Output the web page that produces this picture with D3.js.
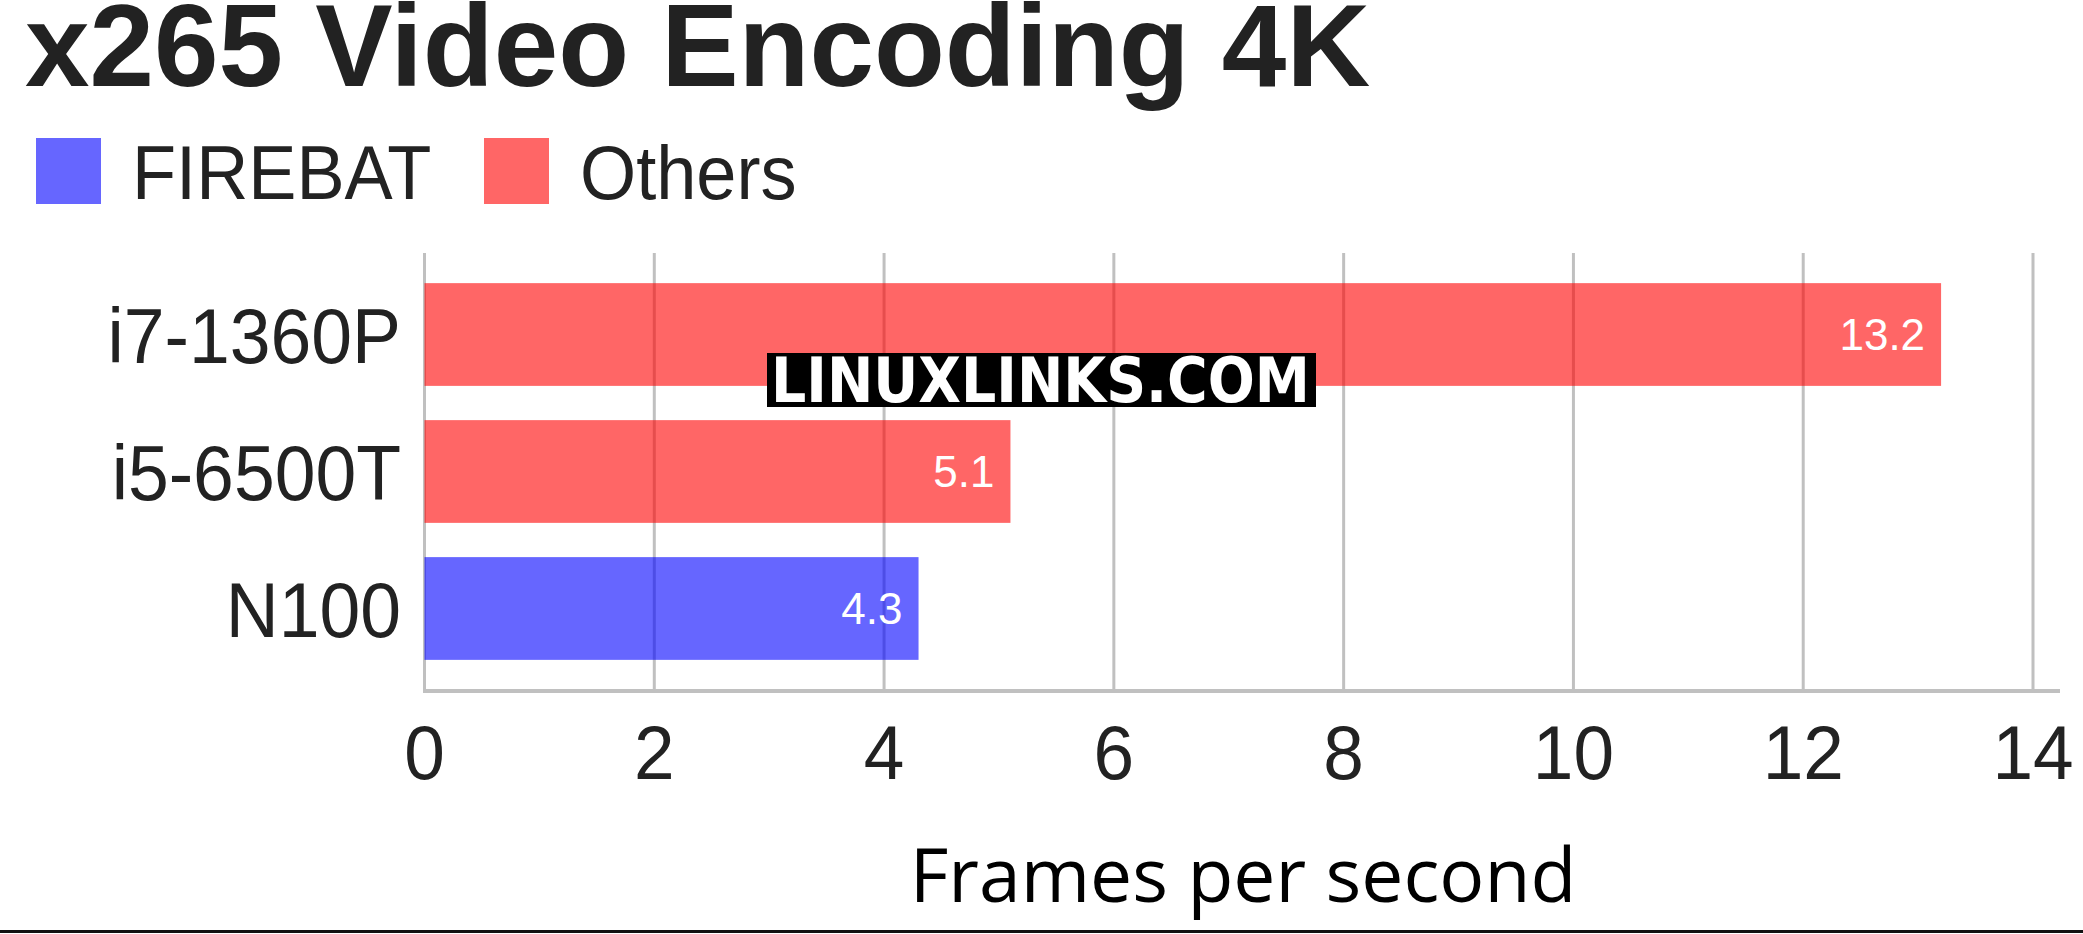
<!DOCTYPE html>
<html>
<head>
<meta charset="utf-8">
<script src="https://cdn.jsdelivr.net/npm/d3@7"></script>
<style>
  html, body { margin: 0; padding: 0; background: #fff; }
  svg { display: block; }
</style>
</head>
<body>
<svg id="chart" width="2083" height="934"></svg>
<script>
const titleText = "x265 Video Encoding 4K";
const categories = ["i7-1360P", "i5-6500T", "N100"];
const values = [13.2, 5.1, 4.3];
const groups = ["Others", "Others", "FIREBAT"];
const legendLabels = ["FIREBAT", "Others"];
const xTicks = [0, 2, 4, 6, 8, 10, 12, 14];
const xTitle = "Frames per second";
const watermark = "LINUXLINKS.COM";

const colorOf = d3.scaleOrdinal().domain(legendLabels).range(["rgba(0,0,255,0.6)", "rgba(255,0,0,0.6)"]);
const solidOf = d3.scaleOrdinal().domain(legendLabels).range(["#6666ff", "#ff6666"]);

const svg = d3.select("#chart");
const W = 2083, H = 934;
svg.append("rect").attr("width", W).attr("height", H).attr("fill", "#fff");

const x = d3.scaleLinear().domain([0, 14]).range([424.5, 2033]);
const y = d3.scaleBand().domain(categories).range([253, 690]).paddingInner(0.25).paddingOuter(0.22);

const sans = "'Liberation Sans', Arial, Helvetica, sans-serif";

// Title
svg.append("text").attr("x", 25).attr("y", 86)
  .attr("font-family", sans).attr("font-weight", "bold").attr("font-size", 116)
  .attr("fill", "#222").text(titleText);

// Legend
const legX = [36, 484];
legendLabels.forEach((lab, i) => {
  svg.append("rect").attr("x", legX[i]).attr("y", 138).attr("width", 65).attr("height", 66)
    .attr("fill", solidOf(lab));
  svg.append("text")
    .attr("transform", `translate(${legX[i] + 96},199) scale(0.95,1)`)
    .attr("font-family", sans).attr("font-size", 76).attr("fill", "#222").text(lab);
});

// Gridlines
svg.append("g").selectAll("line").data(xTicks).join("line")
  .attr("x1", d => x(d)).attr("x2", d => x(d))
  .attr("y1", 253).attr("y2", 690)
  .attr("stroke", "#c0c0c0").attr("stroke-width", 3);

// Axis baseline
svg.append("line").attr("x1", 423).attr("x2", 2060).attr("y1", 691).attr("y2", 691)
  .attr("stroke", "#c0c0c0").attr("stroke-width", 4);

// Bars
const data = categories.map((c, i) => ({ c, v: values[i], g: groups[i] }));
svg.append("g").selectAll("rect").data(data).join("rect")
  .attr("x", x(0)).attr("y", d => y(d.c))
  .attr("width", d => x(d.v) - x(0)).attr("height", y.bandwidth())
  .attr("fill", d => colorOf(d.g));

// Value labels
svg.append("g").selectAll("text").data(data).join("text")
  .attr("x", d => x(d.v) - 16).attr("y", d => y(d.c) + y.bandwidth() / 2)
  .attr("dy", "0.36em").attr("text-anchor", "end")
  .attr("font-family", sans).attr("font-size", 44).attr("fill", "#fff")
  .text(d => d.v.toFixed(1));

// Category labels
svg.append("g").selectAll("text").data(categories).join("text")
  .attr("transform", d => `translate(401,${y(d) + y.bandwidth() / 2}) scale(0.94,1)`)
  .attr("dy", "0.36em").attr("text-anchor", "end")
  .attr("font-family", sans).attr("font-size", 78).attr("fill", "#222")
  .text(d => d);

// X tick labels
svg.append("g").selectAll("text").data(xTicks).join("text")
  .attr("transform", d => `translate(${x(d)},779) scale(0.96,1)`)
  .attr("text-anchor", "middle")
  .attr("font-family", sans).attr("font-size", 76).attr("fill", "#222")
  .text(d => d);

// X axis title
svg.append("text").attr("x", 1243).attr("y", 902).attr("text-anchor", "middle")
  .attr("font-family", "'Open Sans', 'Noto Sans', sans-serif").attr("font-size", 75)
  .attr("fill", "#000").text(xTitle);

// Watermark
svg.append("rect").attr("x", 767).attr("y", 353).attr("width", 549).attr("height", 54).attr("fill", "#000");
svg.append("text").attr("x", 771).attr("y", 402)
  .attr("font-family", "'DejaVu Sans', sans-serif").attr("font-weight", "bold").attr("font-size", 62)
  .attr("fill", "#fff").attr("textLength", 539).attr("lengthAdjust", "spacingAndGlyphs")
  .text(watermark);

// Bottom rule
svg.append("line").attr("x1", 0).attr("x2", W).attr("y1", 931.5).attr("y2", 931.5)
  .attr("stroke", "#111").attr("stroke-width", 3);
</script>
</body>
</html>
